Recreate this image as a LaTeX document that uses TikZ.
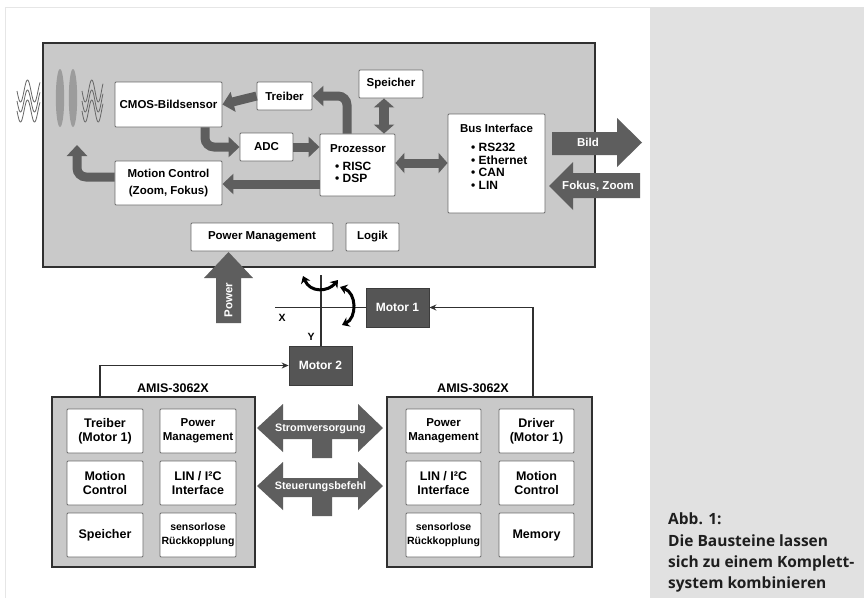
\documentclass[tikz,border=0pt]{standalone}
\usepackage{fontspec}
\setmainfont{Liberation Sans}
\newfontfamily\capfont{Open Sans}
\usetikzlibrary{arrows.meta}
\definecolor{boxgray}{HTML}{C9C9C9}
\definecolor{arrowgray}{HTML}{5E5E5E}
\definecolor{motorfill}{HTML}{555555}
\definecolor{panelgray}{HTML}{E1E1E1}
\definecolor{framegray}{HTML}{E6E6E6}
\definecolor{innerborder}{HTML}{6E6E6E}
\definecolor{outerborder}{HTML}{303030}
\definecolor{wavegray}{HTML}{666666}
\definecolor{ellgray}{HTML}{9C9C9C}
\definecolor{capcol}{HTML}{1E1E1E}
\begin{document}
\begin{tikzpicture}[x=1pt,y=-1pt,
  wbox/.style={draw=innerborder, fill=white, line width=0.9pt, rounded corners=1pt,
    align=center, inner sep=0pt, font=\bfseries\fontsize{11.5}{17}\selectfont},
  ibox/.style={wbox, minimum width=76pt, minimum height=44pt, font=\bfseries\fontsize{12.5}{14}\selectfont},
  bigbox/.style={draw=outerborder, fill=boxgray, line width=1.6pt},
  dbox/.style={draw=motorfill!70!black, fill=motorfill, text=white, line width=0.8pt,
    minimum width=63pt, minimum height=39pt, inner sep=0pt, font=\bfseries\fontsize{12}{14}\selectfont},
  txt/.style={inner sep=0pt, font=\bfseries\fontsize{11.5}{14}\selectfont},
  btxt/.style={inner sep=0pt, anchor=west, font=\bfseries\fontsize{12}{14}\selectfont},
  wtxt/.style={inner sep=0pt, text=white, font=\bfseries\fontsize{11.5}{14}\selectfont},
  fat/.style={line width=9pt, draw=arrowgray, -{Triangle[width=20pt,length=11pt]}},
  fatboth/.style={line width=9pt, draw=arrowgray, {Triangle[width=20pt,length=9pt]}-{Triangle[width=20pt,length=9pt]}},
  rot/.style={line width=3pt, black, {Stealth[length=7pt,width=10pt]}-{Stealth[length=7pt,width=10pt]}},
  conn/.style={line width=1.1pt, draw=outerborder, -{Stealth[length=7pt,width=6pt]}},
  axis/.style={line width=1.2pt, draw=outerborder}
]
\useasboundingbox (0,0) rectangle (864,598);
\fill[white] (0,0) rectangle (864,598);
\fill[panelgray] (650,7) rectangle (864,598);
\draw[framegray, line width=1pt] (5,598) -- (5,7) -- (650,7);

% main box
\node[bigbox, minimum width=552pt, minimum height=224pt, inner sep=0pt] (main) at (319,155) {};

% waves and lenses
\foreach \o in {0,10,20}{
  \draw[wavegray, line width=0.8pt, samples=60, domain=0:23, smooth]
    plot ({17+\x}, {91+\o+11*sin(\x*360/14)});
  \draw[wavegray, line width=0.8pt, samples=60, domain=0:21, smooth]
    plot ({82+\x}, {91+\o+11*sin(\x*360/13)});
}
\fill[ellgray] (60,98) ellipse [x radius=4.2, y radius=29];
\fill[ellgray] (73,98) ellipse [x radius=4.2, y radius=29];

% boxes in main
\node[wbox, minimum width=107pt, minimum height=45pt] (cmos) at (168.5,104.5) {CMOS-Bildsensor};
\node[wbox, minimum width=55pt, minimum height=28pt] (treiber) at (284.5,96) {Treiber};
\node[wbox, minimum width=64pt, minimum height=28pt] (speicher) at (391,84) {Speicher};
\node[wbox, minimum width=53pt, minimum height=28pt] (adc) at (266.5,147) {ADC};
\node[wbox, minimum width=75pt, minimum height=62pt] (proz) at (357.5,165) {};
\node[txt] (prozt) at (358,149) {Prozessor};
\node[btxt] (risc) at (335,166) {• RISC};
\node[btxt] (dsp) at (335,178.5) {• DSP};
\node[wbox, minimum width=107pt, minimum height=44pt] (motion) at (168.5,183) {Motion Control\\(Zoom, Fokus)};
\node[wbox, minimum width=97pt, minimum height=99pt] (bus) at (496.5,163.5) {};
\node[txt] (bust) at (496.5,128) {Bus Interface};
\node[btxt] (rs) at (471,147) {• RS232};
\node[btxt] (eth) at (471,160) {• Ethernet};
\node[btxt] (can) at (471,172.5) {• CAN};
\node[btxt] (lin) at (471,185) {• LIN};
\node[wbox, minimum width=142pt, minimum height=28pt] (pm) at (262,237) {Power Management};
\node[wbox, minimum width=53pt, minimum height=28pt] (logik) at (372.5,237) {Logik};

% thick internal arrows
\draw[fat] (treiber.west) -- (cmos.east);
\draw[fat, rounded corners=9pt] (cmos.south -| 205,0) |- (adc.west);
\draw[fat] (adc.east) -- (proz.west |- adc.east);
\draw[fat, rounded corners=9pt] (proz.north -| 347,0) |- (treiber.east);
\draw[fatboth, line width=10pt] (speicher.south -| 384,0) -- (proz.north -| 384,0);
\draw[fatboth] (proz.east |- 0,163) -- (bus.west |- 0,163);
\draw[fat] (proz.west |- 0,184) -- (motion.east |- 0,184);
\coordinate (mcup) at (77,145);
\draw[fat, rounded corners=9pt] (motion.west |- 0,177) -| (mcup);

% external big arrows
\fill[arrowgray] (552,132) -- (617,132) -- (617,118) -- (642,142.5) -- (617,167) -- (617,155) -- (552,155) -- cycle;
\node[wtxt] (bild) at (588,142.5) {Bild};
\fill[arrowgray] (640,173) -- (573,173) -- (573,162) -- (549,186) -- (573,210) -- (573,198) -- (640,198) -- cycle;
\node[wtxt] (fokus) at (598,186) {Fokus, Zoom};
\fill[arrowgray] (216,323) -- (216,278) -- (204,278) -- (228.5,252) -- (253,278) -- (241,278) -- (241,323) -- cycle;
\node[wtxt, rotate=90] (power) at (228.5,300) {Power};

% motors and axes
\node[dbox] (motor1) at (397.5,307.5) {Motor 1};
\node[dbox] (motor2) at (320.5,365.5) {Motor 2};
\coordinate (axT) at (321,275);
\coordinate (axL) at (275,307.5);
\draw[axis] (axT) -- (axT |- motor2.north);
\draw[axis] (axL) -- (motor1.west);
\node[txt, font=\bfseries\fontsize{10.5}{12}\selectfont] (xl) at (282,318) {X};
\node[txt, font=\bfseries\fontsize{10.5}{12}\selectfont] (yl) at (311,337) {Y};
\draw[rot] (303,276) .. controls (310,293) and (328,292) .. (338,280);
\draw[rot] (340,287) .. controls (357,293) and (357,318) .. (342,325);

% AMIS boxes
\node[bigbox, line width=1.4pt, minimum width=203pt, minimum height=170pt, inner sep=0pt] (amisL) at (153.5,482) {};
\node[bigbox, line width=1.4pt, minimum width=205pt, minimum height=170pt, inner sep=0pt] (amisR) at (489.5,482) {};
\node[txt, font=\bfseries\fontsize{12.5}{14}\selectfont] (amisLt) at (173,388) {AMIS-3062X};
\node[txt, font=\bfseries\fontsize{12.5}{14}\selectfont] (amisRt) at (473,388) {AMIS-3062X};

\node[ibox] (l11) at (105,431) {Treiber\\(Motor 1)};
\node[ibox, font=\bfseries\fontsize{11.5}{14}\selectfont] (l12) at (198,431) {Power\\Management};
\node[ibox] (l21) at (105,483) {Motion\\Control};
\node[ibox] (l22) at (198,483) {LIN / I²C\\Interface};
\node[ibox] (l31) at (105,535) {Speicher};
\node[ibox, font=\bfseries\fontsize{10.5}{14}\selectfont] (l32) at (198,535) {sensorlose\\Rückkopplung};

\node[ibox, minimum width=75pt, font=\bfseries\fontsize{11.5}{14}\selectfont] (r11) at (443.5,431) {Power\\Management};
\node[ibox, minimum width=75pt] (r12) at (536.5,431) {Driver\\(Motor 1)};
\node[ibox, minimum width=75pt] (r21) at (443.5,483) {LIN / I²C\\Interface};
\node[ibox, minimum width=75pt] (r22) at (536.5,483) {Motion\\Control};
\node[ibox, minimum width=75pt, font=\bfseries\fontsize{10.5}{14}\selectfont] (r31) at (443.5,535) {sensorlose\\Rückkopplung};
\node[ibox, minimum width=75pt] (r32) at (536.5,535) {Memory};

% connectors to motors
\coordinate (tapR) at (533,397);
\coordinate (tapL) at (100,397);
\draw[conn] (tapR) |- (motor1.east);
\draw[conn] (tapL) |- (motor2.west);

% T-shaped double arrows
\foreach \dy/\lab/\nm in {0/Stromversorgung/strom, 58/Steuerungsbefehl/steuer}{
  \begin{scope}[shift={(0,\dy)}]
    \fill[arrowgray] (257,428) -- (283,404) -- (283,420) -- (358,420) -- (358,404) -- (383,428)
      -- (358,452) -- (358,439) -- (332,439) -- (332,458) -- (312,458) -- (312,439)
      -- (283,439) -- (283,452) -- cycle;
    \node[wtxt, font=\bfseries\fontsize{10.8}{12}\selectfont] (\nm) at (320.5,429) {\lab};
  \end{scope}
}

% caption
\node[anchor=north west, align=left, inner sep=0pt, text=capcol,
  font=\capfont\bfseries\fontsize{15.5}{21.3}\selectfont] (cap) at (668,513)
  {Abb. 1:\\Die Bausteine lassen\\sich zu einem Komplett-\\system kombinieren};
\end{tikzpicture}
\end{document}
